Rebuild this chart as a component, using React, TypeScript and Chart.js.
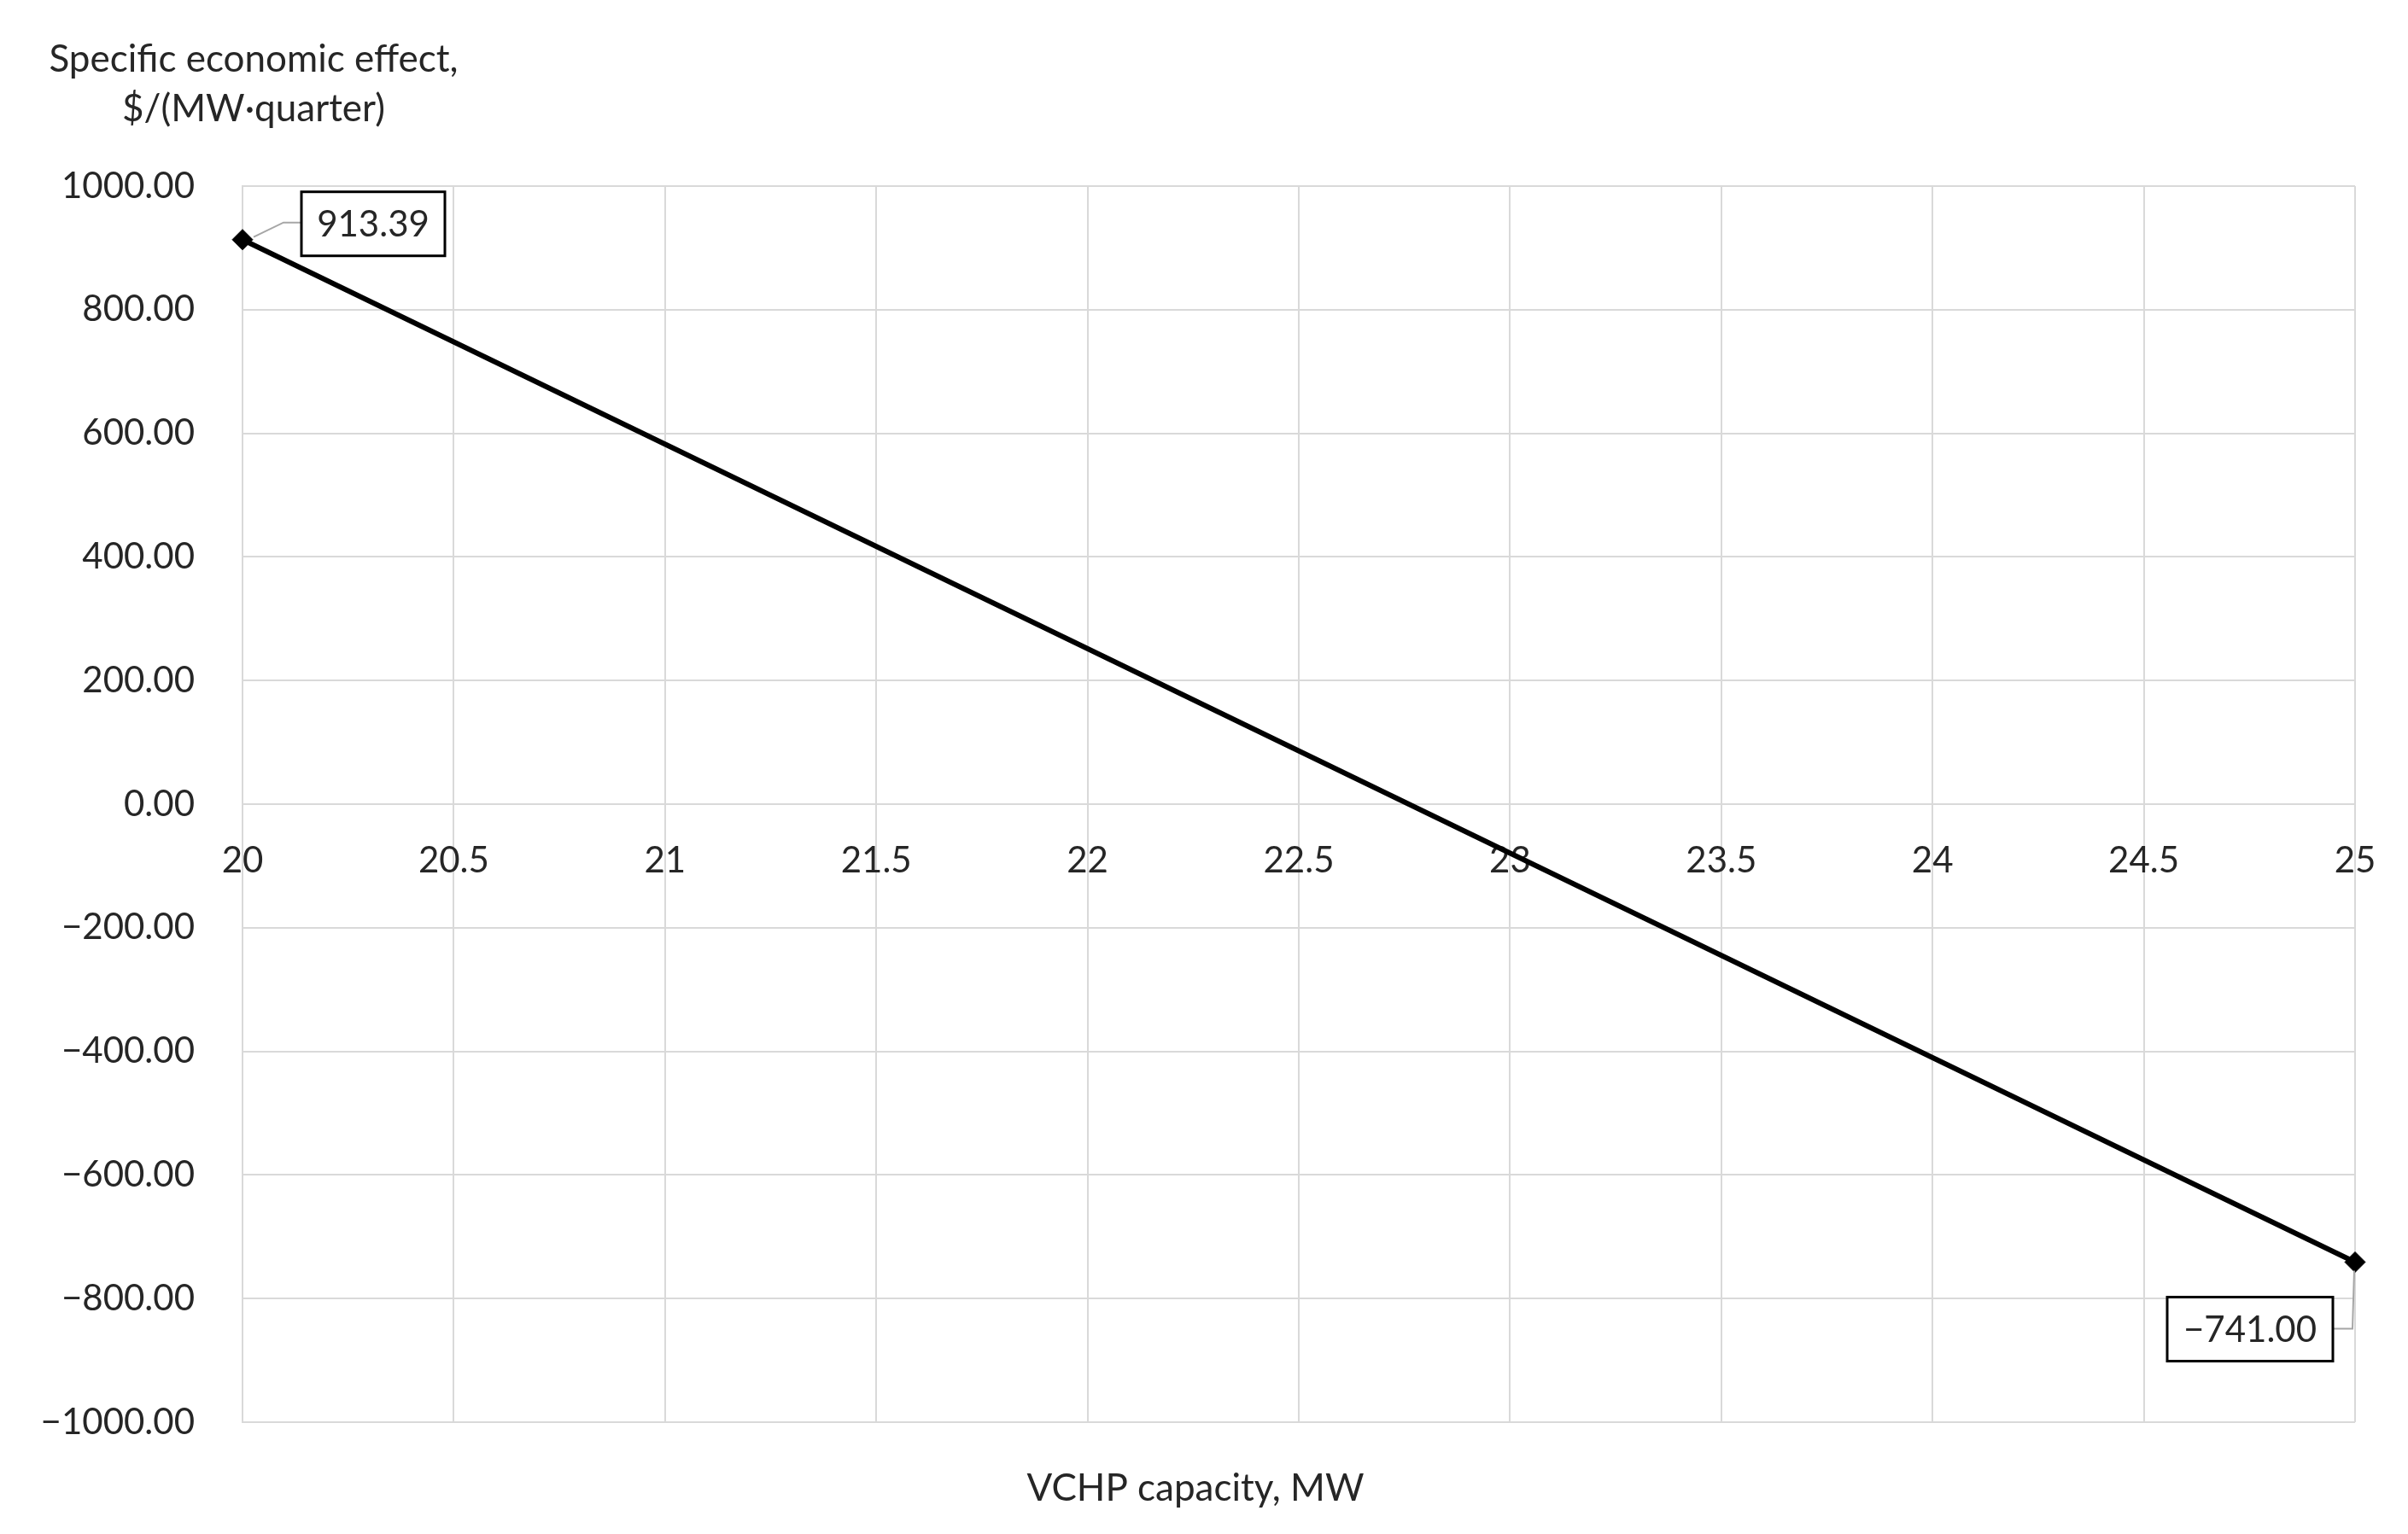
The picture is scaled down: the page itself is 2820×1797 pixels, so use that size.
import React, { useEffect, useRef } from "react";
import { Chart, registerables } from "chart.js";

Chart.register(...registerables);

// ---- data ----
const capacityMW = [20, 25];
const effectValues = [913.39, -741.0];
const xMin = 20;
const xMax = 25;
const xTickStep = 0.5;
const yMin = -1000;
const yMax = 1000;
const yTickStep = 200;
const yTitleLines = ["Specific economic effect,", "$/(MW·quarter)"];
const xTitle = "VCHP capacity, MW";

// ---- style ----
const W = 2820;
const H = 1797;
const FONT = "Lato";
const FS = 42;
const TITLE_FS = 44;
const TEXT = "#262626";
const GRID = "#d9d9d9";

const fmt = (v: number) => {
  const s = Math.abs(v).toFixed(2);
  return v < 0 ? "\u2212" + s : s;
};

function drawBox(ctx: CanvasRenderingContext2D, x: number, y: number, w: number, h: number, text: string) {
  ctx.fillStyle = "#ffffff";
  ctx.fillRect(x, y, w, h);
  ctx.strokeStyle = "#000000";
  ctx.lineWidth = 3;
  ctx.strokeRect(x, y, w, h);
  ctx.fillStyle = TEXT;
  ctx.textAlign = "center";
  ctx.textBaseline = "middle";
  ctx.fillText(text, x + w / 2, y + h / 2 + 1);
}

function drawLeader(ctx: CanvasRenderingContext2D, pts: number[][]) {
  ctx.strokeStyle = "#a6a6a6";
  ctx.lineWidth = 2;
  ctx.beginPath();
  ctx.moveTo(pts[0][0], pts[0][1]);
  for (let i = 1; i < pts.length; i++) ctx.lineTo(pts[i][0], pts[i][1]);
  ctx.stroke();
}

const pointLabelPlugin = {
  id: "pointLabelBoxes",
  afterDatasetsDraw(chart: any) {
    const ctx: CanvasRenderingContext2D = chart.ctx;
    const pts = chart.getDatasetMeta(0).data;
    ctx.save();
    ctx.font = `${FS}px ${FONT}`;
    const p0 = pts[0];
    drawLeader(ctx, [
      [p0.x + 13, p0.y - 3],
      [p0.x + 48, p0.y - 20],
      [p0.x + 69, p0.y - 20],
    ]);
    drawBox(ctx, p0.x + 69, p0.y - 56, 168, 75, fmt(effectValues[0]));
    const p1 = pts[1];
    drawLeader(ctx, [
      [p1.x - 26, p1.y + 78],
      [p1.x - 3, p1.y + 78],
      [p1.x - 1, p1.y + 10],
    ]);
    drawBox(ctx, p1.x - 220, p1.y + 41, 194, 75, fmt(effectValues[1]));
    ctx.restore();
  },
};

const titlesPlugin = {
  id: "axisTitles",
  afterDraw(chart: any) {
    const ctx: CanvasRenderingContext2D = chart.ctx;
    ctx.save();
    ctx.font = `${TITLE_FS}px ${FONT}`;
    ctx.fillStyle = TEXT;
    ctx.textAlign = "center";
    ctx.textBaseline = "middle";
    ctx.fillText(yTitleLines[0], 297, 70);
    ctx.fillText(yTitleLines[1], 297, 128);
    ctx.fillText(xTitle, 1400, 1744);
    ctx.restore();
  },
};

export default function App() {
  const ref = useRef<HTMLCanvasElement | null>(null);

  useEffect(() => {
    if (!ref.current) return;
    const chart = new Chart(ref.current, {
      type: "line",
      data: {
        datasets: [
          {
            data: capacityMW.map((x, i) => ({ x, y: effectValues[i] })),
            borderColor: "#000000",
            backgroundColor: "#000000",
            borderWidth: 6,
            pointStyle: "rectRot",
            pointRadius: 12,
            pointBorderWidth: 1,
            pointBackgroundColor: "#000000",
            pointBorderColor: "#000000",
            clip: false as any,
            tension: 0,
          },
        ],
      },
      options: {
        responsive: false,
        animation: false,
        devicePixelRatio: 1,
        layout: { padding: { left: 0, right: 62, top: 218, bottom: 131 } },
        plugins: {
          legend: { display: false },
          tooltip: { enabled: false },
          title: { display: false },
        },
        scales: {
          x: {
            type: "linear",
            min: xMin,
            max: xMax,
            position: { y: 0 } as any,
            ticks: {
              stepSize: xTickStep,
              color: TEXT,
              font: { family: FONT, size: FS },
              padding: 41,
              maxRotation: 0,
              autoSkip: false,
              callback: (v: any) => String(Number(v)),
            },
            grid: { color: GRID, lineWidth: 2, drawTicks: false },
            border: { display: true, color: GRID, width: 2 },
            afterFit: (s: any) => {
              s.height = 0;
              s.paddingLeft = 0;
              s.paddingRight = 0;
            },
          },
          y: {
            type: "linear",
            position: "left",
            min: yMin,
            max: yMax,
            ticks: {
              stepSize: yTickStep,
              color: TEXT,
              font: { family: FONT, size: FS },
              padding: 56,
              callback: (v: any) => fmt(Number(v)),
            },
            grid: { color: GRID, lineWidth: 2, drawTicks: false },
            border: { display: true, color: GRID, width: 2 },
            afterFit: (s: any) => {
              s.width = 284;
              s.paddingTop = 0;
              s.paddingBottom = 0;
            },
          },
        },
      },
      plugins: [pointLabelPlugin, titlesPlugin],
    });
    return () => chart.destroy();
  }, []);

  return (
    <div
      style={{
        position: "fixed",
        left: 0,
        top: 0,
        width: W,
        height: H,
        background: "#ffffff",
      }}
    >
      <canvas ref={ref} width={W} height={H} style={{ display: "block", width: W, height: H }} />
    </div>
  );
}
